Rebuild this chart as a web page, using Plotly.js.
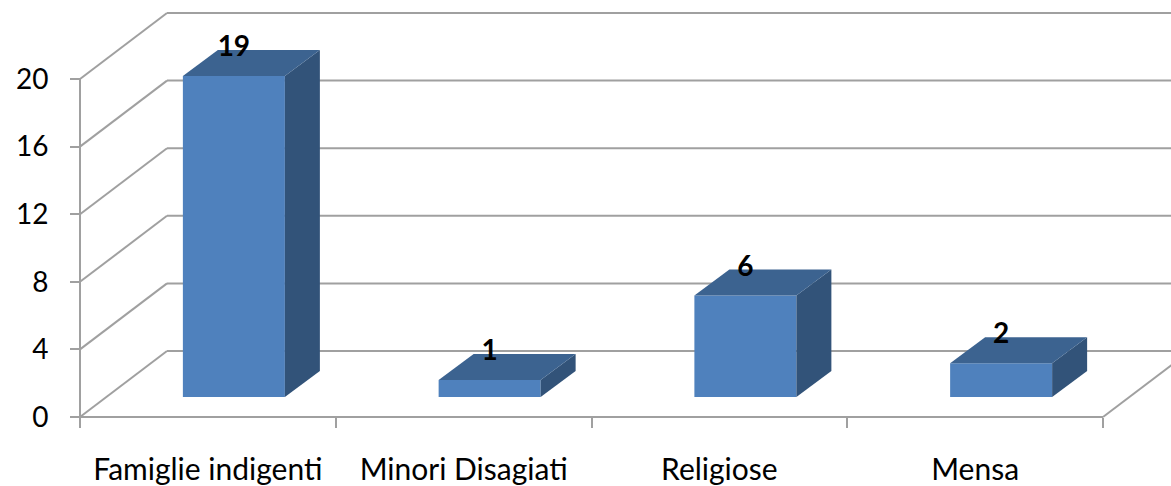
<!DOCTYPE html>
<html>
<head>
<meta charset="utf-8">
<script src="https://cdn.plot.ly/plotly-3.0.1.min.js"></script>
<style>html,body{margin:0;padding:0;background:#fff;overflow:hidden}</style>
</head>
<body>
<div id="chart" style="width:1171px;height:486px"></div>
<script>
const categories = ["Famiglie indigenti", "Minori Disagiati", "Religiose", "Mensa"];
const values = [19, 1, 6, 2];
const yTicks = [0, 4, 8, 12, 16, 20];

const W = 1171, H = 486;
const pxX = 255.75, pxY = 16.9, x0px = 80, y0px = 417;
const wallDX = 87 / pxX, wallDY = 66 / pxY;       // depth of the floor
const barDX = 26 / pxX, barDY = 20 / pxY;         // where bars sit on the floor
const depthDX = 35 / pxX, depthDY = 26 / pxY;     // depth of each bar
const barW = 102 / pxX;
const FONT = "Lato, Carlito, sans-serif";
const GRID = "#A0A0A0";

function line(x1, y1, x2, y2) {
  return {type: "line", xref: "x", yref: "y", layer: "below", x0: x1, y0: y1, x1: x2, y1: y2,
          line: {color: GRID, width: 2}};
}
const n = categories.length;
const shapes = [line(0, 0, n, 0), line(0, 0, 0, 20), line(n, 0, n + wallDX, wallDY)];
yTicks.forEach(t => {
  shapes.push(line(0, t, wallDX, t + wallDY));
  shapes.push(line(wallDX, t + wallDY, n + wallDX, t + wallDY));
});

const centers = values.map((_, i) => i + 0.5 + barDX);
const traces = [{
  type: "bar", x: centers, y: values, base: values.map(() => barDY), width: barW,
  marker: {color: "#4F81BD", line: {width: 0}}, cliponaxis: false, hoverinfo: "x+y"
}];
function poly(xs, ys, color) {
  traces.push({type: "scatter", mode: "lines", x: xs, y: ys, fill: "toself", fillcolor: color,
               line: {width: 0, color: color}, hoverinfo: "skip"});
}
values.forEach((v, i) => {
  const l = centers[i] - barW / 2, r = centers[i] + barW / 2, b = barDY, t = barDY + v;
  poly([r, r + depthDX, r + depthDX, r, r], [b, b + depthDY, t + depthDY, t, b], "#325379");
  poly([l, l + depthDX, r + depthDX, r, l], [t, t + depthDY, t + depthDY, t, t], "#3C6390");
});
traces.push({
  type: "scatter", mode: "text",
  x: centers,
  y: values.map(v => v + barDY + depthDY + 1 / pxY),
  text: values.map(String), textposition: "middle center",
  textfont: {family: FONT, size: 28, color: "#000", weight: 700},
  cliponaxis: false, hoverinfo: "skip"
});

const layout = {
  width: W, height: H, showlegend: false,
  margin: {l: 0, r: 0, t: 0, b: 0, pad: 0},
  paper_bgcolor: "#fff", plot_bgcolor: "#fff",
  font: {family: FONT, size: 28, color: "#000"},
  shapes: shapes,
  xaxis: {
    range: [-x0px / pxX, (W - x0px) / pxX], anchor: "free", position: (H - y0px) / H,
    tickmode: "array", tickvals: categories.map((_, i) => i + 0.5), ticktext: categories,
    tickfont: {family: FONT, size: 30, color: "#000"},
    ticks: "", showgrid: false, zeroline: false, showline: false, tickangle: 0,
    ticklabelstandoff: 32, automargin: false,
    minor: {tickmode: "array", tickvals: [0, 1, 2, 3, 4], ticks: "outside", ticklen: 10, tickwidth: 2, tickcolor: GRID, showgrid: false}
  },
  yaxis: {
    range: [-(H - y0px) / pxY, y0px / pxY], anchor: "free", position: x0px / W,
    tickmode: "array", tickvals: yTicks, ticktext: yTicks.map(String),
    tickfont: {family: FONT, size: 28, color: "#000"},
    ticks: "outside", ticklen: 10, tickwidth: 2, tickcolor: GRID,
    showgrid: false, zeroline: false, showline: false, ticklabelstandoff: 16, automargin: false
  }
};
Plotly.newPlot("chart", traces, layout, {displayModeBar: false, staticPlot: true});
</script>
</body>
</html>
